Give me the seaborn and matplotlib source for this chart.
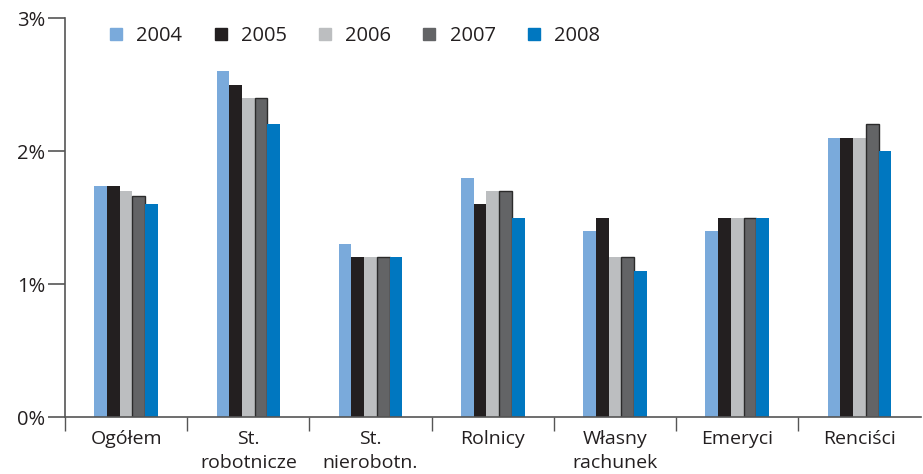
import matplotlib
matplotlib.use("Agg")
import matplotlib.pyplot as plt
from matplotlib.lines import Line2D
from matplotlib.ticker import FixedLocator, PercentFormatter
import seaborn as sns
import pandas as pd

categories = ["Ogółem", "St.\nrobotnicze", "St.\nnierobotn.", "Rolnicy",
              "Własny\nrachunek", "Emeryci", "Renciści"]
years = ["2004", "2005", "2006", "2007", "2008"]
v2004 = [1.74, 2.6, 1.3, 1.8, 1.4, 1.4, 2.1]
v2005 = [1.74, 2.5, 1.2, 1.6, 1.5, 1.5, 2.1]
v2006 = [1.70, 2.4, 1.2, 1.7, 1.2, 1.5, 2.1]
v2007 = [1.66, 2.4, 1.2, 1.7, 1.2, 1.5, 2.2]
v2008 = [1.60, 2.2, 1.2, 1.5, 1.1, 1.5, 2.0]
y_ticks = [0, 1, 2, 3]

colors = ["#7AAADB", "#231F20", "#BCBEC0", "#636466", "#0077C0"]

rows = []
for yr, vals in zip(years, [v2004, v2005, v2006, v2007, v2008]):
    for c, v in zip(categories, vals):
        rows.append({"cat": c, "year": yr, "val": v})
df = pd.DataFrame(rows)

sns.set_style("white")
plt.rcParams["font.family"] = ["Open Sans", "DejaVu Sans"]

fig = plt.figure(figsize=(9.23, 4.74), dpi=100)
ax = fig.add_axes([0.0704, 0.120, 0.927, 0.842])

sns.barplot(data=df, x="cat", y="val", hue="year", palette=colors,
            width=0.52, saturation=1, ax=ax, legend=False, errorbar=None,
            linewidth=0)

for bar in ax.containers[3]:
    bar.set_edgecolor("#2b2b2b")
    bar.set_linewidth(1.0)

ax.set_ylim(0, 3)
ax.set_xlim(-0.5, 6.5)
ax.set_yticks(y_ticks)
ax.yaxis.set_major_formatter(PercentFormatter(decimals=0))
ax.tick_params(axis="y", length=12, width=1.2, color="#555555",
               labelsize=14.5, labelcolor="#231F20", direction="out", left=True, pad=2)

ax.set_xticks(range(len(categories)))
ax.set_xticklabels(categories, fontsize=14, color="#231F20", linespacing=1.45)
ax.tick_params(axis="x", which="major", length=0, pad=9)
ax.xaxis.set_minor_locator(FixedLocator([i - 0.5 for i in range(len(categories))]))
ax.tick_params(axis="x", which="minor", length=10, width=1.0, color="#555555",
               direction="out", bottom=True)

for s in ["top", "right"]:
    ax.spines[s].set_visible(False)
for s in ["left", "bottom"]:
    ax.spines[s].set_color("#555555")
    ax.spines[s].set_linewidth(1.2)
ax.set_xlabel("")
ax.set_ylabel("")

handles = [Line2D([], [], marker="s", linestyle="", markersize=8.5,
                  markerfacecolor=c, markeredgecolor=c) for c in colors]
ax.legend(handles, years, ncol=5, frameon=False, loc="upper left",
          bbox_to_anchor=(0.027, 1.025), fontsize=14.5, handletextpad=0.5,
          columnspacing=1.4, handlelength=1.0, labelcolor="#231F20")

fig.savefig("out.png", dpi=100)
